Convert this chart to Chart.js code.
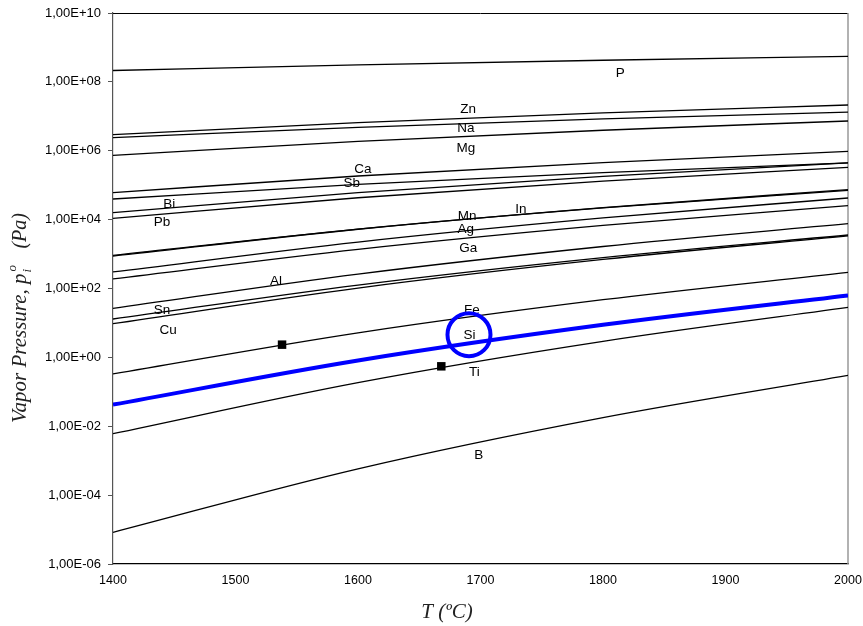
<!DOCTYPE html>
<html lang="en">

<head>
    <meta charset="UTF-8">
    <title>Vapor Pressure</title>
    <script src="https://cdn.jsdelivr.net/npm/chart.js@4.4.1/dist/chart.umd.min.js"></script>
    <style>
        body { margin: 0; background: #fff; }
    </style>
</head>

<body>
    <canvas id="vapor" width="863" height="626"></canvas>

    <script>
        // temperatures (ºC) where the curves were read
        const temps = [1400, 1600, 1800, 2000];

        // vapor pressure of each element, Pa
        const pP  = [2.14e8, 3.13e8, 4.25e8, 5.50e8];
        const pZn = [2.92e6, 6.53e6, 1.25e7, 2.13e7];
        const pNa = [2.39e6, 4.80e6, 8.39e6, 1.33e7];
        const pMg = [7.33e5, 1.86e6, 3.94e6, 7.31e6];
        const pCa = [6.05e4, 1.85e5, 4.55e5, 9.57e5];
        const pSb = [3.97e4, 1.05e5, 2.31e5, 4.42e5];
        const pBi = [1.59e4, 6.11e4, 1.81e5, 4.42e5];
        const pPb = [1.09e4, 4.32e4, 1.32e5, 3.29e5];
        const pMn = [916, 5.31e3, 2.19e4, 7.06e4];
        const pIn = [871, 5.26e3, 2.24e4, 7.41e4];
        const pAg = [302, 2.23e3, 1.12e4, 4.25e4];
        const pGa = [189, 1.37e3, 6.79e3, 2.54e4];
        const pAl = [26.5, 262, 1.66e3, 7.62e3];
        const pSn = [13.0, 126, 791, 3.58e3];
        const pCu = [9.53, 103, 698, 3.39e3];
        const pFe = [0.330, 5.14, 47.2, 294];
        const pSi = [0.0424, 0.813, 8.83, 63.1];
        const pTi = [0.00610, 0.185, 2.92, 28.3];
        const pB  = [8.30e-6, 5.79e-4, 0.0178, 0.300];

        // melting points marked with squares (Fe, Ti)
        const meltT = [1538, 1668];
        const meltP = [2.34, 0.55];

        // circle around the Si label
        const circleT = [1690.6];
        const circleP = [4.56];

        // element names and where they sit
        const labelNames = ['P', 'Zn', 'Na', 'Mg', 'Ca', 'Sb', 'Bi', 'Pb', 'Mn', 'In', 'Ag', 'Ga', 'Al', 'Sn', 'Cu', 'Fe', 'Si', 'Ti', 'B'];
        const labelT = [1814, 1690, 1688, 1688, 1604, 1595, 1446, 1440, 1689, 1733, 1688, 1690, 1533, 1440, 1445, 1693, 1691, 1695, 1698.5];
        const labelP = [1.74e8, 1.55e7, 4.37e6, 1.15e6, 2.82e5, 1.10e5, 2.88e4, 8.13e3, 1.22e4, 1.95e4, 5.13e3, 1.45e3, 158, 22.9, 5.96, 22.9, 4.27, 0.36, 1.40e-3];

        // y ticks: every second decade
        const yTickExp = [-6, -4, -2, 0, 2, 4, 6, 8, 10];

        const blackSeries = [pP, pZn, pNa, pMg, pCa, pSb, pBi, pPb, pMn, pIn, pAg, pGa, pAl, pSn, pCu, pFe, pTi, pB];

        const toPoints = (xs, ys) => xs.map((t, i) => ({ x: t, y: ys[i] }));

        const datasets = blackSeries.map(s => ({
            data: toPoints(temps, s),
            borderColor: '#000',
            borderWidth: 1.3,
            pointRadius: 0,
            cubicInterpolationMode: 'monotone',
            showLine: true,
            order: 3
        }));

        datasets.push({
            data: toPoints(temps, pSi),
            borderColor: '#0000ff',
            borderWidth: 4,
            pointRadius: 0,
            cubicInterpolationMode: 'monotone',
            showLine: true,
            order: 2
        });

        datasets.push({
            data: toPoints(meltT, meltP),
            showLine: false,
            pointStyle: 'rect',
            pointRadius: 6,
            backgroundColor: '#000',
            borderColor: '#000',
            borderWidth: 0,
            order: 1
        });

        datasets.push({
            data: toPoints(circleT, circleP),
            showLine: false,
            pointStyle: 'circle',
            pointRadius: 21.5,
            backgroundColor: 'rgba(0,0,0,0)',
            borderColor: '#0000ff',
            borderWidth: 4,
            order: 0
        });

        const fmtExp = v => {
            const e = Math.round(Math.log10(v));
            return '1,00E' + (e < 0 ? '-' : '+') + String(Math.abs(e)).padStart(2, '0');
        };

        // names, frame and axis titles
        const extras = {
            id: 'extras',
            beforeDatasetsDraw(chart) {
                const { ctx, chartArea: { top, right, bottom, left }, scales: { x, y } } = chart;
                ctx.save();
                ctx.strokeStyle = '#000';
                ctx.lineWidth = 1;
                ctx.beginPath();
                ctx.moveTo(left, top + 0.5);
                ctx.lineTo(right, top + 0.5);
                ctx.stroke();
                ctx.strokeStyle = '#999';
                ctx.lineWidth = 1.5;
                ctx.beginPath();
                ctx.moveTo(right, top);
                ctx.lineTo(right, bottom);
                ctx.stroke();

                ctx.font = '13.5px "Liberation Sans", Arial, sans-serif';
                ctx.fillStyle = '#000';
                ctx.textAlign = 'center';
                ctx.textBaseline = 'middle';
                labelNames.forEach((n, i) => {
                    ctx.fillText(n, x.getPixelForValue(labelT[i]), y.getPixelForValue(labelP[i]));
                });
                ctx.restore();
            },
            afterDraw(chart) {
                const { ctx } = chart;
                const serif = '"Liberation Serif", "Times New Roman", serif';
                ctx.save();
                ctx.fillStyle = '#222';

                // y title, drawn bottom to top
                ctx.translate(26, 423);
                ctx.rotate(-Math.PI / 2);
                ctx.textBaseline = 'alphabetic';
                ctx.textAlign = 'left';
                ctx.font = 'italic 21px ' + serif;
                const main = 'Vapor Pressure, p';
                ctx.fillText(main, 0, 0);
                const w = ctx.measureText(main).width;
                ctx.font = 'italic 13px ' + serif;
                ctx.fillText('i', w + 1, 5);
                ctx.fillText('o', w + 2, -10);
                ctx.font = 'italic 20px ' + serif;
                ctx.textAlign = 'right';
                ctx.fillText('(Pa)', 210, 0);
                ctx.restore();

                // x title
                ctx.save();
                ctx.fillStyle = '#222';
                ctx.font = 'italic 21px ' + serif;
                ctx.textAlign = 'center';
                ctx.textBaseline = 'alphabetic';
                ctx.fillText('T (ºC)', 447, 618);
                ctx.restore();
            }
        };

        const config = {
            type: 'scatter',
            data: { datasets: datasets },
            options: {
                responsive: false,
                animation: false,
                layout: {
                    autoPadding: false,
                    padding: { top: 13, right: 15, left: 0, bottom: 0 }
                },
                plugins: {
                    legend: { display: false },
                    tooltip: { enabled: false }
                },
                scales: {
                    x: {
                        type: 'linear',
                        min: 1400,
                        max: 2000,
                        afterFit: s => {
                            s.height = 62;
                            s.paddingLeft = 0;
                            s.paddingRight = 0;
                        },
                        ticks: {
                            stepSize: 100,
                            padding: 9,
                            color: '#000',
                            callback: v => String(v),
                            font: { family: '"Liberation Sans", Arial, sans-serif', size: 12.5 }
                        },
                        grid: { drawOnChartArea: false, drawTicks: false },
                        border: { color: '#000', width: 1.2 }
                    },
                    y: {
                        type: 'logarithmic',
                        min: 1e-6,
                        max: 1e10,
                        afterFit: s => {
                            s.width = 113;
                            s.paddingTop = 0;
                            s.paddingBottom = 0;
                        },
                        afterBuildTicks: s => {
                            s.ticks = yTickExp.map(e => ({ value: Math.pow(10, e) }));
                        },
                        ticks: {
                            padding: 7,
                            color: '#000',
                            autoSkip: false,
                            callback: v => fmtExp(v),
                            font: { family: '"Liberation Sans", Arial, sans-serif', size: 13 }
                        },
                        grid: { drawOnChartArea: false, drawTicks: true, tickLength: 5, color: '#555' },
                        border: { color: '#555', width: 1.2 }
                    }
                }
            },
            plugins: [extras]
        };

        const vaporChart = new Chart(document.getElementById('vapor'), config);
    </script>

</body>

</html>
